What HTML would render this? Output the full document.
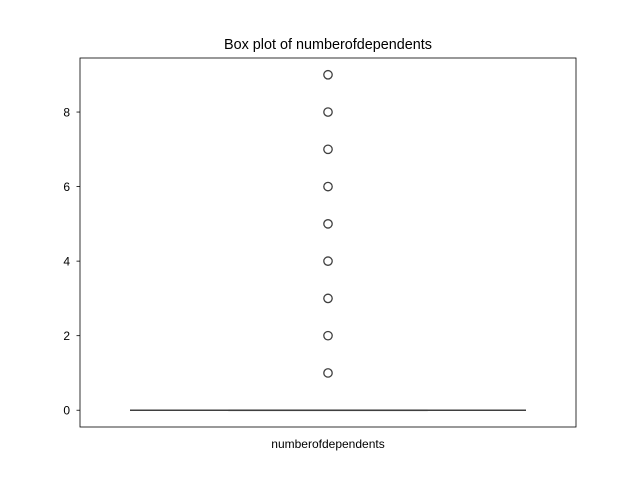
<!DOCTYPE html>
<html><head><meta charset="utf-8"><style>
body{margin:0;background:#fff}
svg text{font-family:"Liberation Sans","DejaVu Sans",sans-serif;fill:#000}
</style></head><body>
<svg width="640" height="480" viewBox="0 0 640 480">
<rect x="0" y="0" width="640" height="480" fill="#fff"/>
<text x="328" y="49" font-size="14.4" text-anchor="middle">Box plot of numberofdependents</text>
<g id="plot"></g>
<rect x="80" y="58" width="496" height="369" fill="none" stroke="#000" stroke-width="0.8"/>
<text x="328" y="448" font-size="12" text-anchor="middle">numberofdependents</text>
</svg>
<script>
const yTicks = [0, 2, 4, 6, 8];
const q1 = [0], median = [0], q3 = [0], whiskLo = [0], whiskHi = [0];
const outliers = [1, 2, 3, 4, 5, 6, 7, 8, 9];
const ymin = -0.45, ymax = 9.45, plotTop = 58, plotBottom = 427, cx = 328;
const y = v => plotBottom - (v - ymin) / (ymax - ymin) * (plotBottom - plotTop);
const ns = 'http://www.w3.org/2000/svg';
const g = document.getElementById('plot');
function mk(tag, attrs) { const e = document.createElementNS(ns, tag); for (const k in attrs) e.setAttribute(k, attrs[k]); g.appendChild(e); return e; }
yTicks.forEach(t => {
  const l = mk('line', {x1: 76.5, x2: 80, y1: y(t), y2: y(t), stroke: '#000', 'stroke-width': 0.8});
  
  
  const tx = mk('text', {x: 70, y: y(t) + 4.5, 'font-size': 12, 'text-anchor': 'end'});
  tx.textContent = t;
  
  
});
const box = mk('rect', {x: 229, y: y(q3[0]), width: 198, height: Math.max(0.1, y(q1[0]) - y(q3[0])), fill: '#4c72b0', stroke: '#3f3f3f', 'stroke-width': 1.5});


const wl = mk('line', {x1: 130, x2: 526, y1: y(whiskLo[0]), y2: y(whiskHi[0]), stroke: '#3f3f3f', 'stroke-width': 1.5});


const md = mk('line', {x1: 229, x2: 427, y1: y(median[0]), y2: y(median[0]), stroke: '#3f3f3f', 'stroke-width': 1.5});


outliers.forEach(v => {
  const c = mk('circle', {cx: cx, cy: y(v), r: 4.2, fill: 'none', stroke: '#3f3f3f', 'stroke-width': 1.3});
  
  
});
</script>
</body></html>
